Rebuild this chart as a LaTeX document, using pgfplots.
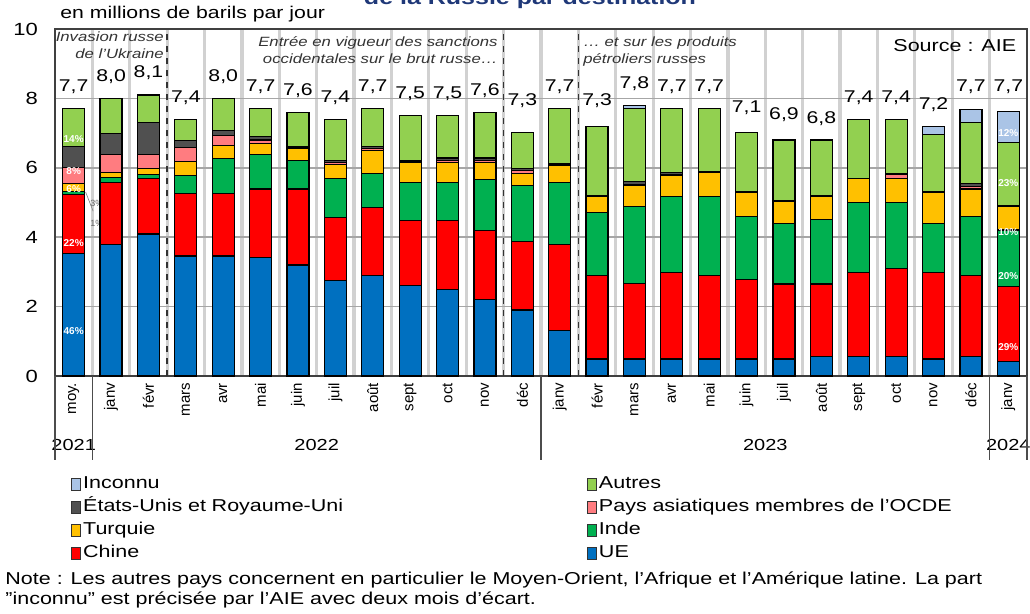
\documentclass[border=0pt]{standalone}
\usepackage{fontspec}
\setmainfont{Liberation Sans}[FakeStretch=1.25]
\newfontfamily\plainfont{Liberation Sans}
\usepackage{pgfplots}
\usepackage{pgfplotstable}
\pgfplotsset{compat=1.18}

\definecolor{cUE}{RGB}{0,112,192}
\definecolor{cChine}{RGB}{255,0,0}
\definecolor{cInde}{RGB}{0,176,80}
\definecolor{cTurq}{RGB}{255,192,0}
\definecolor{cAsie}{RGB}{255,124,128}
\definecolor{cUSRU}{RGB}{80,80,80}
\definecolor{cAutres}{RGB}{146,208,80}
\definecolor{cInconnu}{RGB}{170,196,230}
\definecolor{titleblue}{RGB}{31,56,120}

\tikzset{
  tot/.style={font=\fontsize{8.5}{9}\selectfont, inner sep=0pt},
  pctlbl/.style={font=\plainfont\fontsize{5}{6}\selectfont\bfseries, text=white, inner sep=0pt},
  sep/.style={black!80, dashed, line width=0.7pt},
  grp/.style={black!70, line width=0.8pt},
  yr/.style={font=\fontsize{8}{9}\selectfont, inner sep=0pt},
}

% Mb/j par destination, moyenne 2021 puis mensuel janv 2022 - janv 2024
\pgfplotstableread{
x  UE   Chine Inde Turquie Asie USRU Autres Inconnu
0  3.54 1.69  0.08 0.23    0.46 0.62 1.08   0
1  3.78 1.80  0.13 0.16    0.51 0.60 1.02   0
2  4.09 1.59  0.12 0.17    0.41 0.92 0.80   0
3  3.46 1.79  0.52 0.42    0.40 0.20 0.61   0
4  3.46 1.79  1.01 0.38    0.29 0.14 0.93   0
5  3.42 1.97  0.99 0.33    0.09 0.10 0.80   0
6  3.20 2.19  0.82 0.35    0.02 0.03 0.99   0
7  2.76 1.81  1.11 0.41    0.06 0.06 1.19   0
8  2.89 1.97  0.98 0.66    0.06 0.05 1.09   0
9  2.60 1.88  1.10 0.58    0.02 0.03 1.29   0
10 2.50 1.98  1.10 0.58    0.06 0.06 1.22   0
11 2.21 1.98  1.47 0.50    0.06 0.06 1.32   0
12 1.90 1.97  1.62 0.35    0.08 0.07 1.03   0
13 1.30 2.50  1.78 0.50    0.02 0.03 1.57   0
14 0.49 2.40  1.82 0.46    0.00 0.03 2.00   0
15 0.49 2.18  2.21 0.61    0.04 0.07 2.10   0.10
16 0.49 2.50  2.18 0.60    0.02 0.08 1.83   0
17 0.49 2.40  2.28 0.70    0.01 0.02 1.80   0
18 0.49 2.28  1.82 0.70    0.00 0.02 1.70   0
19 0.49 2.16  1.75 0.62    0.01 0.02 1.75   0
20 0.56 2.09  1.85 0.67    0.01 0.02 1.60   0
21 0.56 2.43  2.01 0.69    0.00 0.01 1.70   0
22 0.56 2.53  1.91 0.70    0.10 0.04 1.56   0
23 0.49 2.50  1.41 0.89    0.00 0.02 1.66   0.23
24 0.56 2.33  1.70 0.80    0.08 0.08 1.75   0.37
25 0.41 2.18  1.62 0.67    0.02 0.02 1.81   0.90
}\dataexp

\begin{document}
\begin{tikzpicture}
\useasboundingbox (-27.5pt,-119pt) rectangle (487.5pt,188pt);
\begin{axis}[
    scale only axis, width=486pt, height=173.5pt,
    xmin=-0.5, xmax=25.5, ymin=0, ymax=10,
    ybar stacked, bar width=11pt,
    ytick={0,2,...,10},
    xtick={0,...,25},
    xticklabels={moy.,janv,févr,mars,avr,mai,juin,juil,août,sept,oct,nov,déc,
                 janv,févr,mars,avr,mai,juin,juil,août,sept,oct,nov,déc,janv},
    minor xtick={0.5,1.5,...,24.5},
    ymajorgrids, xminorgrids,
    major grid style={black!35, line width=0.8pt},
    minor grid style={black!18, line width=1.6pt},
    major tick length=0pt, minor tick length=0pt,
    axis line style={black!75, line width=0.8pt},
    /pgf/number format/assume math mode=true,
    yticklabel style={font=\fontsize{8.8}{10}\selectfont, xshift=-5pt},
    xticklabel style={font=\plainfont\fontsize{7.5}{8}\selectfont, rotate=90, anchor=east},
    clip=false,
    reverse legend, legend columns=2, legend cell align=left,
    legend image code/.code={\draw[#1, draw=black!80, line width=0.4pt] (0pt,-2.8pt) rectangle (4.5pt,3pt);},
    legend style={at={(0,0)}, anchor=north west, xshift=8pt, yshift=-49.5pt,
        draw=none, fill=none, inner sep=0pt, row sep=2.3pt,
        font=\fontsize{8.6}{10}\selectfont,
        nodes={text height=6.6pt, text depth=2.6pt, inner ysep=0pt, inner xsep=1pt, text width=251pt}},
]
\addplot[fill=cUE, draw=black, line width=0.6pt] table[x=x, y=UE] {\dataexp};
\addlegendentry{UE}
\addplot[fill=cChine, draw=black, line width=0.6pt] table[x=x, y=Chine] {\dataexp};
\addlegendentry{Chine}
\addplot[fill=cInde, draw=black, line width=0.6pt] table[x=x, y=Inde] {\dataexp};
\addlegendentry{Inde}
\addplot[fill=cTurq, draw=black, line width=0.6pt] table[x=x, y=Turquie] {\dataexp};
\addlegendentry{Turquie}
\addplot[fill=cAsie, draw=black, line width=0.6pt] table[x=x, y=Asie] {\dataexp};
\addlegendentry{Pays asiatiques membres de l'OCDE}
\addplot[fill=cUSRU, draw=black, line width=0.6pt] table[x=x, y=USRU] {\dataexp};
\addlegendentry{États-Unis et Royaume-Uni}
\addplot[fill=cAutres, draw=black, line width=0.6pt] table[x=x, y=Autres] {\dataexp};
\addlegendentry{Autres}
\addplot[fill=cInconnu, draw=black, line width=0.6pt] table[x=x, y=Inconnu] {\dataexp};
\addlegendentry{Inconnu}

% separateurs de periodes
\draw[sep] (axis cs:2.5,0) -- (axis cs:2.5,10);
\draw[sep] (axis cs:11.5,0) -- (axis cs:11.5,10);
\draw[sep] (axis cs:13.5,0) -- (axis cs:13.5,10);

% totaux au-dessus des barres
\foreach \i/\v/\t in {0/7.7/{7,7},1/8.0/{8,0},2/8.1/{8,1},3/7.4/{7,4},4/8.0/{8,0},5/7.7/{7,7},
    6/7.6/{7,6},7/7.4/{7,4},8/7.7/{7,7},9/7.5/{7,5},10/7.5/{7,5},11/7.6/{7,6},12/7.3/{7,3},
    13/7.7/{7,7},14/7.3/{7,3},15/7.8/{7,8},16/7.7/{7,7},17/7.7/{7,7},18/7.1/{7,1},19/6.9/{6,9},
    20/6.8/{6,8},21/7.4/{7,4},22/7.4/{7,4},23/7.2/{7,2},24/7.7/{7,7},25/7.7/{7,7}}{
  \edef\temp{\noexpand\node[tot] at (axis cs:\i,\v+0.63) {\t};}\temp
}

% points d'ancrage des parts en %
\coordinate (a1) at (axis cs:0,1.30);
\coordinate (a2) at (axis cs:0,3.83);
\coordinate (a3) at (axis cs:0,5.39);
\coordinate (a4) at (axis cs:0,5.92);
\coordinate (a5) at (axis cs:0,6.83);
\coordinate (b1) at (axis cs:25,0.84);
\coordinate (b2) at (axis cs:25,2.88);
\coordinate (b3) at (axis cs:25,4.15);
\coordinate (b4) at (axis cs:25,5.56);
\coordinate (b5) at (axis cs:25,7.00);
\node[font=\plainfont\fontsize{4.5}{5}\selectfont, text=black!60, inner sep=0pt] at (axis cs:0.62,4.96) {3\%};
\node[font=\plainfont\fontsize{4.5}{5}\selectfont, text=black!60, inner sep=0pt] at (axis cs:0.62,4.40) {1\%};
\draw[black!50, line width=0.3pt] (axis cs:0.32,5.30) -- (axis cs:0.52,4.75);

% annotations
\node[font=\fontsize{6.7}{8.5}\selectfont\itshape, text=black!80, align=right, anchor=north east, inner sep=0pt]
  at (axis cs:2.42,9.92) {Invasion russe\\de l'Ukraine};
\node[font=\fontsize{6.7}{8.5}\selectfont\itshape, text=black!80, align=right, anchor=north east, inner sep=0pt]
  at (axis cs:11.35,9.8) {Entrée en vigueur des sanctions\\occidentales sur le brut russe…};
\node[font=\fontsize{6.7}{8.5}\selectfont\itshape, text=black!80, align=left, anchor=north west, inner sep=0pt]
  at (axis cs:13.62,9.8) {… et sur les produits\\pétroliers russes};
\node[font=\fontsize{8.6}{10}\selectfont, anchor=east, inner sep=0pt] at (axis cs:25.22,9.51) {Source : AIE};

% groupes d'annees
\draw[grp] (axis cs:-0.5,0) -- ([yshift=-42pt]axis cs:-0.5,0);
\draw[grp] (axis cs:0.5,0) -- ([yshift=-42pt]axis cs:0.5,0);
\draw[grp] (axis cs:12.5,0) -- ([yshift=-42pt]axis cs:12.5,0);
\draw[grp] (axis cs:24.5,0) -- ([yshift=-42pt]axis cs:24.5,0);
\draw[grp] (axis cs:25.5,0) -- ([yshift=-42pt]axis cs:25.5,0);
\node[yr] at (axis cs:0,0) [yshift=-34.5pt] {2021};
\node[yr] at (axis cs:6.5,0) [yshift=-34.5pt] {2022};
\node[yr] at (axis cs:18.5,0) [yshift=-34.5pt] {2023};
\node[yr] at (axis cs:25,0) [yshift=-34.5pt] {2024};
\end{axis}

\node[pctlbl] at (a1) {46\%};
\node[pctlbl] at (a2) {22\%};
\node[pctlbl] at (a3) {6\%};
\node[pctlbl] at (a4) {8\%};
\node[pctlbl] at (a5) {14\%};
\node[pctlbl] at (b1) {29\%};
\node[pctlbl] at (b2) {20\%};
\node[pctlbl] at (b3) {10\%};
\node[pctlbl] at (b4) {23\%};
\node[pctlbl] at (b5) {12\%};

\node[font=\fontsize{10}{12}\selectfont\bfseries, text=titleblue, anchor=base] at (237.5pt,185.5pt) {de la Russie par destination};
\node[font=\fontsize{8.5}{10}\selectfont, anchor=west, inner sep=0pt] at (2.5pt,181pt) {en millions de barils par jour};
\node[font=\fontsize{8.6}{10}\selectfont, anchor=west, inner sep=0pt] at (-25pt,-102pt)
  {Note : Les autres pays concernent en particulier le Moyen-Orient, l'Afrique et l'Amérique latine. La part};
\node[font=\fontsize{8.6}{10}\selectfont, anchor=west, inner sep=0pt] at (-25pt,-112pt)
  {"inconnu" est précisée par l'AIE avec deux mois d'écart.};
\end{tikzpicture}
\end{document}
